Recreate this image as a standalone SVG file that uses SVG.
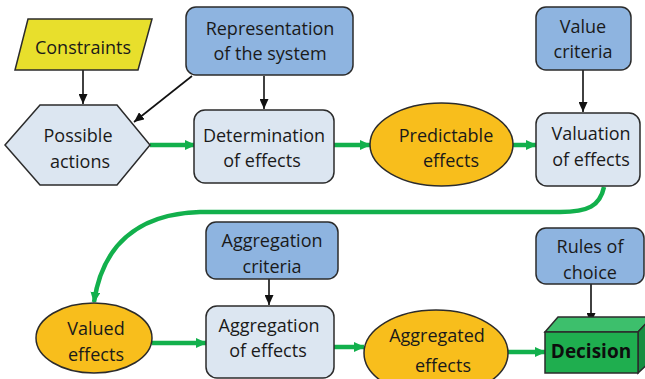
<svg xmlns="http://www.w3.org/2000/svg" width="645" height="379" viewBox="0 0 645 379">
<defs>
<marker id="ga" markerUnits="userSpaceOnUse" markerWidth="11" markerHeight="10" refX="10" refY="5" orient="auto"><path d="M0,0 L11,5 L0,10 z" fill="#12b04c"/></marker>
<marker id="ba" markerUnits="userSpaceOnUse" markerWidth="10" markerHeight="9" refX="10" refY="4.5" orient="auto"><path d="M0,0 L10,4.5 L0,9 z" fill="#111"/></marker>
<style>
text{font-family:"Open Sans","Noto Sans","Liberation Sans",sans-serif;font-size:18px;fill:#1a1a1a;text-anchor:middle}
.shape{stroke:#2b2b2b;stroke-width:1.5}
.blue{fill:#8eb4e0}
.light{fill:#dce6f1}
.orange{fill:#f8be1c}
.g{fill:none;stroke:#12b04c;stroke-width:4.5;marker-end:url(#ga)}
.b{fill:none;stroke:#111;stroke-width:1.6;marker-end:url(#ba)}
</style>
</defs>
<rect width="645" height="379" fill="#ffffff"/>
<g id="connectors">
<path class="b" d="M83,70 L83,104"/>
<path class="b" d="M192,76 L134,122"/>
<path class="b" d="M264,76 L264,109"/>
<path class="b" d="M583,70 L583,112"/>
<path class="b" d="M269,279 L269,305"/>
<path class="b" d="M591,284 L591,323"/>
<path class="g" d="M150,145 L195,145"/>
<path class="g" d="M334,145 L370,145"/>
<path class="g" d="M513,145 L536,145"/>
<path class="g" d="M604,187 C600,206 588,212 560,212 L200,212 C135,214 102,248 94,302"/>
<path class="g" d="M152,343 L206,343"/>
<path class="g" d="M334,347 L364,347"/>
<path class="g" d="M508,352 L545,352"/>
</g>
<g id="constraints">
<polygon class="shape" points="28,19 152,19 138,70 15,70" fill="#e8df2c"/>
<text x="83" y="54">Constraints</text>
</g>
<g id="representation">
<rect class="shape blue" x="186" y="7" width="167" height="68" rx="10"/>
<text x="270" y="35">Representation</text>
<text x="270" y="60">of the system</text>
</g>
<g id="possible-actions">
<polygon class="shape light" points="5,145 40,105 117,105 150,145 117,185 40,185"/>
<text x="78" y="142">Possible</text>
<text x="80" y="168">actions</text>
</g>
<g id="determination">
<rect class="shape light" x="194" y="110" width="140" height="73" rx="11"/>
<text x="264" y="142">Determination</text>
<text x="262" y="167">of effects</text>
</g>
<g id="predictable">
<ellipse class="shape orange" cx="441.5" cy="144.5" rx="71.5" ry="41.5"/>
<text x="446" y="142">Predictable</text>
<text x="451" y="167">effects</text>
</g>
<g id="value-criteria">
<rect class="shape blue" x="536" y="7" width="95" height="63" rx="10"/>
<text x="583" y="33">Value</text>
<text x="583" y="58">criteria</text>
</g>
<g id="valuation">
<rect class="shape light" x="536" y="113" width="104" height="73" rx="11"/>
<text x="591" y="140">Valuation</text>
<text x="591" y="166">of effects</text>
</g>
<g id="valued">
<ellipse class="shape orange" cx="94" cy="338" rx="58" ry="35"/>
<text x="96" y="335">Valued</text>
<text x="96" y="361">effects</text>
</g>
<g id="aggregation-criteria">
<rect class="shape blue" x="206" y="222" width="132" height="57" rx="10"/>
<text x="272" y="247">Aggregation</text>
<text x="272" y="273">criteria</text>
</g>
<g id="aggregation">
<rect class="shape light" x="206" y="306" width="128" height="72" rx="11"/>
<text x="269" y="332">Aggregation</text>
<text x="268" y="357">of effects</text>
</g>
<g id="aggregated">
<ellipse class="shape orange" cx="436" cy="353" rx="72" ry="43"/>
<text x="437" y="342">Aggregated</text>
<text x="443" y="372">effects</text>
</g>
<g id="rules">
<rect class="shape blue" x="536" y="228" width="108" height="56" rx="10"/>
<text x="590" y="253">Rules of</text>
<text x="590" y="279">choice</text>
</g>
<g id="decision">
<polygon class="shape" points="545,332 558,317 652,317 638,332" fill="#3dbf6c"/>
<polygon class="shape" points="638,332 652,317 652,360 638,373" fill="#168e41"/>
<rect class="shape" x="545" y="332" width="93" height="41" fill="#1fae4f"/>
<text x="591" y="358" style="font-weight:bold;font-size:19px;fill:#0d0d0d">Decision</text>
</g>
</svg>
